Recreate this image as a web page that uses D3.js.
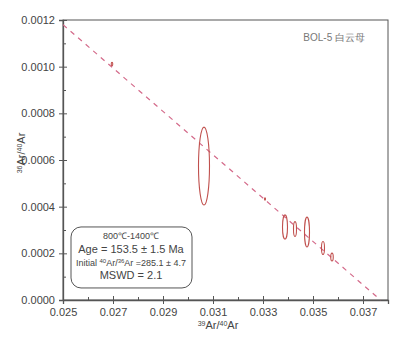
<!DOCTYPE html>
<html>
<head>
<meta charset="utf-8">
<script src="https://cdn.jsdelivr.net/npm/d3@7"></script>
<style>
  body { margin: 0; background: #fff; }
  text { font-family: "Liberation Sans", Arial, sans-serif; }
</style>
</head>
<body>
<div id="chart"></div>
<script>
// isochron data: ellipse centres (x = 39Ar/40Ar, y = 36Ar/40Ar) and half-axes
const ptX  = [0.02696, 0.03064, 0.03308, 0.03388, 0.03428, 0.03476, 0.03540, 0.03576];
const ptY  = [0.001011, 0.000574, 0.000433, 0.000313, 0.000304, 0.000291, 0.000223, 0.000184];
const errX = [0.00003, 0.00022, 0.00002, 0.00010, 0.00006, 0.00010, 0.00006, 0.00005];
const errY = [0.000008, 0.000167, 0.000005, 0.000052, 0.000032, 0.000064, 0.000028, 0.000017];
// fitted isochron line end points
const lineX = [0.025, 0.0377];
const lineY = [0.00118, 0.0];
const xTicks = [0.025, 0.027, 0.029, 0.031, 0.033, 0.035, 0.037];
const yTicks = [0.0000, 0.0002, 0.0004, 0.0006, 0.0008, 0.0010, 0.0012];

const margin = { top: 20, right: 19, bottom: 37, left: 63 };
const width = 407 - margin.left - margin.right;
const height = 337 - margin.top - margin.bottom;

const svg = d3.select("#chart")
  .append("svg")
  .attr("width", 407)
  .attr("height", 337)
  .append("g")
  .attr("transform", `translate(${margin.left},${margin.top})`);

const x = d3.scaleLinear().domain([0.025, 0.038]).range([0, width]);
const y = d3.scaleLinear().domain([0, 0.0012]).range([height, 0]);

const axisColor = "#555";

// frame (top and right)
svg.append("rect")
  .attr("width", width)
  .attr("height", height)
  .attr("fill", "none")
  .attr("stroke", axisColor)
  .attr("stroke-width", 1);

// minor ticks
const xMinor = d3.range(0.026, 0.038, 0.002);
svg.append("g")
  .attr("transform", `translate(0,${height})`)
  .call(d3.axisBottom(x).tickValues(xMinor).tickSize(-3).tickFormat(""))
  .call(g => g.select(".domain").remove())
  .selectAll("line").attr("stroke", axisColor);
const yMinor = d3.range(0.0001, 0.0012, 0.0002);
svg.append("g")
  .call(d3.axisLeft(y).tickValues(yMinor).tickSize(-3).tickFormat(""))
  .call(g => g.select(".domain").remove())
  .selectAll("line").attr("stroke", axisColor);

// X axis
const xAxis = svg.append("g")
  .attr("transform", `translate(0,${height})`)
  .call(d3.axisBottom(x).tickValues(xTicks).tickSize(4).tickPadding(4).tickFormat(d3.format(".3f")));
xAxis.selectAll(".tick line").clone().attr("y2", -4);

// Y axis
const yAxis = svg.append("g")
  .call(d3.axisLeft(y).tickValues(yTicks).tickSize(4).tickPadding(4).tickFormat(d3.format(".4f")));
yAxis.selectAll(".tick line").clone().attr("x2", 4);

[xAxis, yAxis].forEach(a => {
  a.select(".domain").attr("stroke", axisColor).attr("stroke-width", 1.3);
  a.selectAll("line").attr("stroke", axisColor);
  a.selectAll("text").attr("fill", "#444").attr("font-size", "11px");
});

// axis labels
const xl = svg.append("text")
  .attr("x", x(0.0312))
  .attr("y", height + 29)
  .attr("text-anchor", "middle")
  .attr("font-size", "11px")
  .attr("fill", "#444");
xl.append("tspan").attr("font-size", "7px").attr("dy", -3).text("39");
xl.append("tspan").attr("dy", 3).text("Ar/");
xl.append("tspan").attr("font-size", "7px").attr("dy", -3).text("40");
xl.append("tspan").attr("dy", 3).text("Ar");

const yl = svg.append("text")
  .attr("transform", "rotate(-90)")
  .attr("x", -y(0.00063))
  .attr("y", -38)
  .attr("text-anchor", "middle")
  .attr("font-size", "11px")
  .attr("fill", "#444");
yl.append("tspan").attr("font-size", "7px").attr("dy", -3).text("36");
yl.append("tspan").attr("dy", 3).text("Ar/");
yl.append("tspan").attr("font-size", "7px").attr("dy", -3).text("40");
yl.append("tspan").attr("dy", 3).text("Ar");

// isochron line
svg.append("line")
  .attr("x1", x(lineX[0])).attr("y1", y(lineY[0]))
  .attr("x2", x(lineX[1])).attr("y2", y(lineY[1]))
  .attr("stroke", "#d46a8a")
  .attr("stroke-width", 1.2)
  .attr("stroke-dasharray", "5,5");

// error ellipses
svg.selectAll("ellipse")
  .data(ptX.map((d, i) => ({ x: d, y: ptY[i], ex: errX[i], ey: errY[i] })))
  .enter().append("ellipse")
  .attr("cx", d => x(d.x))
  .attr("cy", d => y(d.y))
  .attr("rx", d => x(d.x + d.ex) - x(d.x))
  .attr("ry", d => y(d.y) - y(d.y + d.ey))
  .attr("fill", "none")
  .attr("stroke", "#c0504d")
  .attr("stroke-width", 1.1);

// sample name
svg.append("text")
  .attr("x", x(0.03708))
  .attr("y", 21)
  .attr("text-anchor", "end")
  .attr("font-size", "10px")
  .attr("fill", "#777")
  .text("BOL-5 白云母");

// result box
const box = svg.append("g").attr("transform", `translate(${x(0.02532)},${y(0.000313)})`);
box.append("rect")
  .attr("width", 121)
  .attr("height", 61)
  .attr("rx", 10)
  .attr("fill", "#fff")
  .attr("stroke", "#555");
const boxLines = ["800℃-1400℃", "Age = 153.5 ± 1.5 Ma", null, "MSWD = 2.1"];
box.append("text").attr("x", 60).attr("y", 12).attr("text-anchor", "middle")
  .attr("font-size", "9px").attr("fill", "#444").text(boxLines[0]);
box.append("text").attr("x", 60).attr("y", 26).attr("text-anchor", "middle")
  .attr("font-size", "11px").attr("fill", "#444").text(boxLines[1]);
const ini = box.append("text").attr("x", 60).attr("y", 39).attr("text-anchor", "middle")
  .attr("font-size", "9px").attr("fill", "#444");
ini.append("tspan").text("Initial ");
ini.append("tspan").attr("font-size", "6px").attr("dy", -3).text("40");
ini.append("tspan").attr("dy", 3).text("Ar/");
ini.append("tspan").attr("font-size", "6px").attr("dy", -3).text("36");
ini.append("tspan").attr("dy", 3).text("Ar =285.1 ± 4.7");
box.append("text").attr("x", 60).attr("y", 52).attr("text-anchor", "middle")
  .attr("font-size", "11px").attr("fill", "#444").text(boxLines[3]);
</script>
</body>
</html>
